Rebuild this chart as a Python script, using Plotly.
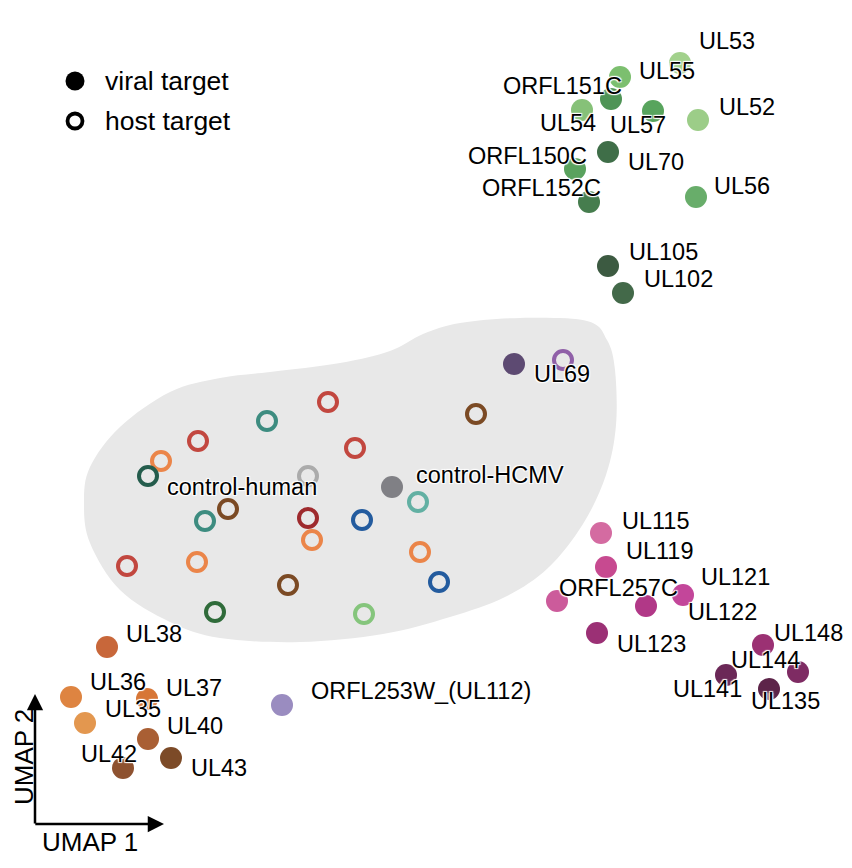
import plotly.graph_objects as go

# ---------------- data (UMAP embedding; y grows downward) -------------
viral_names = ["UL53", "UL55", "ORFL151C", "UL54", "UL57", "UL52", "UL70", "ORFL150C",
               "ORFL152C", "UL56", "UL105", "UL102",
               "UL69", "control-HCMV",
               "UL115", "UL119", "ORFL257C", "UL122", "UL121", "UL123", "UL148", "UL144",
               "UL141", "UL135",
               "UL38", "UL36", "UL37", "UL35", "UL40", "UL42", "UL43",
               "ORFL253W_(UL112)"]
viral_x = [680, 620, 611, 582, 653, 698, 608, 575, 589, 696, 608, 623,
           514, 392,
           601, 606, 557, 646, 683, 597, 763, 798, 726, 769,
           107, 71, 147, 85, 148, 123, 171,
           282]
viral_y = [63, 77, 99, 110, 111, 120, 152, 169, 202, 197, 266, 293,
           364, 487,
           533, 567, 601, 606, 595, 633, 645, 672, 675, 689,
           647, 697, 699, 723, 739, 768, 758,
           705]
viral_colors = ["#a2d18c", "#7cbf6f", "#4f9456", "#86c178", "#58a45d", "#9ccd88",
                "#3f6e48", "#5aa25e", "#467d4e", "#68ad6a", "#3c5a41", "#436949",
                "#5d4a72", "#808085",
                "#d46ba1", "#c74a90", "#cc5b9b", "#b13887", "#c3469a", "#9b3075",
                "#9b3173", "#7e2b63", "#6b2857", "#5d2449",
                "#c8673a", "#de8441", "#d77636", "#e3974f", "#a95f34", "#8e5230",
                "#7c4a27",
                "#9a8cc0"]

host_names = ["h1", "h2", "h3", "h4", "h5", "h6", "control-human", "h8", "h9", "h10",
              "h11", "h12", "h13", "h14", "h15", "h16", "h17", "h18", "h19", "h20",
              "h21", "h22"]
host_x = [328, 267, 198, 355, 161, 148, 308, 418, 228, 205, 308, 362, 312, 420, 127,
          197, 288, 439, 215, 364, 476, 563]
host_y = [402, 421, 441, 448, 461, 476, 476, 502, 509, 521, 518, 520, 540, 552, 566,
          562, 585, 582, 612, 614, 414, 360]
host_colors = ["#c2473f", "#3d8c80", "#c2473f", "#c2473f", "#eb8549", "#245c4c",
               "#ababab", "#62b0a3", "#7b4a24", "#3d8c80", "#9e2a2d", "#235b9e",
               "#eb8549", "#eb8549", "#c2473f", "#eb8549", "#7b4a24", "#235b9e",
               "#2f6b3a", "#85c57c", "#7b4a24", "#9060a8"]

legend_labels = ["viral target", "host target"]

# label offsets (pixels) of each text relative to its point
label_offsets = {
    "UL53": (47, -22), "UL55": (47, -6), "ORFL151C": (-49, -13), "UL54": (-14, 13),
    "UL57": (-15, 14), "UL52": (49, -13), "UL70": (48, 10), "ORFL150C": (-48, -13),
    "ORFL152C": (-48, -14), "UL56": (46, -11), "UL105": (55, -14), "UL102": (55, -14),
    "UL69": (48, 10), "control-HCMV": (98, -12),
    "UL115": (55, -12), "UL119": (54, -16), "ORFL257C": (61, -13), "UL122": (76, 6),
    "UL121": (52, -18), "UL123": (54, 11), "UL148": (45, -12), "UL144": (-33, -12),
    "UL141": (-19, 14), "UL135": (16, 12),
    "UL38": (47, -13), "UL36": (47, -15), "UL37": (47, -11), "UL35": (48, -14),
    "UL40": (47, -13), "UL42": (-14, -14), "UL43": (48, 10),
    "ORFL253W_(UL112)": (139, -14),
    "control-human": (-66, 11),
}

# outline of the grey host-target region
region_x = [270, 340, 390, 423, 460, 520, 587, 607, 615, 616, 606, 583, 548, 505,
            450, 383, 300, 220, 170, 120, 90, 84, 90, 120, 170, 220]
region_y = [372, 363, 351, 334, 323, 318, 321, 340, 370, 425, 475, 524, 568, 597,
            617, 634, 642, 638, 622, 590, 543, 503, 467, 427, 392, 378]

FONT = "Arial, Liberation Sans, sans-serif"
HALO = "1px 1px 1px #fff, -1px -1px 1px #fff, 1px -1px 1px #fff, -1px 1px 1px #fff"

# page has an 8px body margin: the figure is 844x860 and maps window pixels 1:1
OFF = 8
W, H = 852 - OFF, 868 - OFF


def closed_spline_path(xs, ys):
    n = len(xs)
    pts = list(zip(xs, ys))
    d = f"M{pts[0][0]},{pts[0][1]}"
    for i in range(n):
        p0 = pts[(i - 1) % n]
        p1 = pts[i]
        p2 = pts[(i + 1) % n]
        p3 = pts[(i + 2) % n]
        c1 = (p1[0] + (p2[0] - p0[0]) / 6, p1[1] + (p2[1] - p0[1]) / 6)
        c2 = (p2[0] - (p3[0] - p1[0]) / 6, p2[1] - (p3[1] - p1[1]) / 6)
        d += f" C{c1[0]:.1f},{c1[1]:.1f} {c2[0]:.1f},{c2[1]:.1f} {p2[0]},{p2[1]}"
    return d + " Z"


fig = go.Figure()

shapes = [dict(type="path", path=closed_spline_path(region_x, region_y),
               xref="x", yref="y", fillcolor="#e8e8e8", line=dict(width=0),
               layer="below")]

# legend symbols (decoration, top-left)
shapes.append(dict(type="circle", xref="x", yref="y", x0=65.5, x1=84.5, y0=71.5, y1=90.5,
                   fillcolor="black", line=dict(width=0)))
shapes.append(dict(type="circle", xref="x", yref="y", x0=67.5, x1=82.5, y0=113.5, y1=128.5,
                   fillcolor="rgba(0,0,0,0)", line=dict(width=3.8, color="black")))

fig.add_trace(go.Scatter(
    x=host_x, y=host_y, mode="markers", showlegend=False, hoverinfo="skip",
    marker=dict(symbol="circle-open", size=18, color=host_colors,
                line=dict(width=4, color=host_colors))))

fig.add_trace(go.Scatter(
    x=viral_x, y=viral_y, mode="markers", showlegend=False, text=viral_names,
    marker=dict(symbol="circle", size=22, color=viral_colors,
                line=dict(width=0))))

annotations = []
for name, x, y in list(zip(viral_names, viral_x, viral_y)) + [("control-human", host_x[6], host_y[6])]:
    dx, dy = label_offsets[name]
    annotations.append(dict(x=x, y=y, xref="x", yref="y", text=name, showarrow=False,
                            xanchor="center", yanchor="middle", xshift=dx, yshift=-dy,
                            font=dict(family=FONT, size=23.5, color="black", shadow=HALO)))

# legend texts
for lab, ly in zip(legend_labels, [81, 121]):
    annotations.append(dict(x=103, y=ly, xref="x", yref="y", text=lab, showarrow=False,
                            xanchor="left", yanchor="middle",
                            font=dict(family=FONT, size=26.5, color="black")))

# UMAP axis arrows
annotations.append(dict(x=35, y=694, ax=35, ay=825, xref="x", yref="y", axref="x",
                        ayref="y", text="", showarrow=True, arrowhead=2, arrowsize=1.3,
                        arrowwidth=2.5, arrowcolor="black"))
annotations.append(dict(x=164, y=824, ax=33.8, ay=824, xref="x", yref="y", axref="x",
                        ayref="y", text="", showarrow=True, arrowhead=2, arrowsize=1.3,
                        arrowwidth=2.5, arrowcolor="black"))
annotations.append(dict(x=90, y=842, xref="x", yref="y", text="UMAP 1", showarrow=False,
                        font=dict(family=FONT, size=26, color="black")))
annotations.append(dict(x=24, y=757, xref="x", yref="y", text="UMAP 2", showarrow=False,
                        textangle=-90, font=dict(family=FONT, size=26, color="black")))

fig.update_layout(
    width=W, height=H,
    margin=dict(l=0, r=0, t=0, b=0),
    paper_bgcolor="white", plot_bgcolor="white",
    xaxis=dict(range=[OFF, 852], visible=False, fixedrange=True),
    yaxis=dict(range=[868, OFF], visible=False, fixedrange=True),
    showlegend=False,
    shapes=shapes,
    annotations=annotations,
)

fig.write_html("out.html")
